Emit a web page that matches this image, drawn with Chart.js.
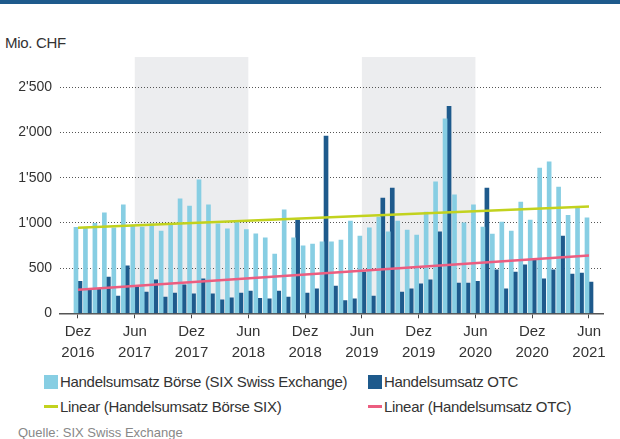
<!DOCTYPE html>
<html>
<head>
<meta charset="utf-8">
<script src="https://cdn.jsdelivr.net/npm/chart.js@4"></script>
<style>
  body { margin: 0; width: 620px; height: 439px; position: relative; overflow: hidden; background: #fff;
         font-family: 'Liberation Sans', Arial, sans-serif; color: #333; }
  #topbar { position: absolute; left: 0; top: 0; width: 620px; height: 4px; background: #1e5a8c; }
  #unit { position: absolute; left: 5px; top: 34px; font-size: 15px; letter-spacing: -0.3px; }
  #wrap { position: absolute; left: 0; top: 0; width: 620px; height: 365px; }
  .leg { position: absolute; font-size: 15px; line-height: 18px; white-space: nowrap; letter-spacing: -0.3px; }
  .box { position: absolute; width: 14px; height: 14px; }
  .ln { position: absolute; width: 14px; height: 3px; }
  #src { position: absolute; left: 18px; top: 425px; font-size: 13px; color: #888; }
</style>
</head>
<body>
<div id="topbar"></div>
<div id="unit">Mio. CHF</div>
<div id="wrap"><canvas id="myChart"></canvas></div>

<div class="box" style="left:44px;top:375px;background:#87cee3"></div>
<div class="leg" style="left:60px;top:373px">Handelsumsatz Börse (SIX Swiss Exchange)</div>
<div class="box" style="left:368px;top:375px;background:#1e5a8c"></div>
<div class="leg" style="left:384px;top:373px">Handelsumsatz OTC</div>
<div class="ln" style="left:44px;top:405px;background:#c2d21e"></div>
<div class="leg" style="left:60px;top:398px">Linear (Handelsumsatz Börse SIX)</div>
<div class="ln" style="left:368px;top:405px;background:#ec5d80"></div>
<div class="leg" style="left:384px;top:398px">Linear (Handelsumsatz OTC)</div>
<div id="src">Quelle: SIX Swiss Exchange</div>

<script>
// monthly values, Dez 2016 .. Jun 2021 (Mio. CHF)
const boerse = [
  950, 945, 995, 1110, 945, 1200, 975, 955, 990, 910, 995, 1265,
  1185, 1475, 1200, 990, 935, 1015, 925, 880, 835, 655, 1145, 835,
  745, 765, 790, 790, 810, 1020, 855, 945, 1065, 900, 1020, 920,
  865, 1120, 1455, 2150, 1310, 1000, 1200, 955, 875, 1010, 910, 1230,
  1030, 1605, 1675, 1395, 1085, 1175, 1055
];
const otc = [
  355, 260, 275, 400, 190, 525, 300, 235, 370, 180, 225, 315,
  215, 380, 215, 150, 170, 225, 245, 165, 160, 245, 180, 1030,
  225, 270, 1960, 300, 140, 160, 455, 190, 1275, 1385, 235, 270,
  325, 370, 900, 2290, 335, 335, 355, 1385, 480, 270, 455, 535,
  600, 380, 480, 855, 435, 445, 345
];
// trend lines: [start, end] read at first and last month
const trendBoerse = [945, 1180];
const trendOtc = [260, 640];

const tickIdx = [0, 6, 12, 18, 24, 30, 36, 42, 48, 54];
const tickLabels = [
  ["Dez", "2016"], ["Jun", "2017"], ["Dez", "2017"], ["Jun", "2018"], ["Dez", "2018"],
  ["Jun", "2019"], ["Dez", "2019"], ["Jun", "2020"], ["Dez", "2020"], ["Jun", "2021"]
];
const yTicks = [0, 500, 1000, 1500, 2000, 2500];
const yTickLabels = ["0", "500", "1'000", "1'500", "2'000", "2'500"];
// grey periods (month index from - to)
const shaded = [[6, 18], [30, 42]];

const last = boerse.length - 1;
const fontFam = "'Liberation Sans', Arial, sans-serif";

const bands = {
  id: "bands",
  beforeDraw(chart) {
    const c = chart.ctx, x = chart.scales.x, a = chart.chartArea;
    c.save();
    c.fillStyle = "#ecedef";
    shaded.forEach(function (s) {
      const x0 = x.getPixelForValue(s[0]);
      const x1 = x.getPixelForValue(s[1]);
      c.fillRect(x0, a.top, x1 - x0, a.bottom - a.top);
    });
    c.restore();
  }
};

const ctx = document.getElementById("myChart");

new Chart(ctx, {
  type: "bar",
  data: {
    datasets: [
      {
        type: "line",
        label: "Linear (Handelsumsatz Börse SIX)",
        data: [{ x: 0, y: trendBoerse[0] }, { x: last, y: trendBoerse[1] }],
        borderColor: "#c2d21e",
        borderWidth: 2.5,
        pointRadius: 0,
        order: 0,
      },
      {
        type: "line",
        label: "Linear (Handelsumsatz OTC)",
        data: [{ x: 0, y: trendOtc[0] }, { x: last, y: trendOtc[1] }],
        borderColor: "#ec5d80",
        borderWidth: 2.5,
        pointRadius: 0,
        order: 0,
      },
      {
        label: "Handelsumsatz Börse (SIX Swiss Exchange)",
        data: boerse.map((v, i) => ({ x: i, y: v })),
        backgroundColor: "#87cee3",
        barThickness: 4,
        order: 1,
      },
      {
        label: "Handelsumsatz OTC",
        data: otc.map((v, i) => ({ x: i, y: v })),
        backgroundColor: "#1e5a8c",
        barThickness: 4,
        order: 1,
      },
    ],
  },
  options: {
    responsive: true,
    maintainAspectRatio: false,
    animation: false,
    layout: { padding: { top: 57, right: 17, left: 0, bottom: 0 } },
    plugins: { legend: { display: false }, tooltip: { enabled: false } },
    scales: {
      x: {
        type: "linear",
        offset: false,
        min: -1.9,
        max: last + 1.48,
        afterBuildTicks(scale) {
          scale.ticks = tickIdx.map((v) => ({ value: v }));
        },
        afterFit(scale) {
          scale.height = 51.7;
          scale.paddingLeft = 0;
          scale.paddingRight = 0;
        },
        ticks: {
          autoSkip: false,
          maxRotation: 0,
          padding: 3,
          color: "#333",
          font: { family: fontFam, size: 15, lineHeight: 1.4 },
          callback: (v) => tickLabels[tickIdx.indexOf(v)],
        },
        grid: { offset: false, drawOnChartArea: false, drawTicks: true, tickLength: 5, color: "#444", lineWidth: 1 },
        border: { color: "#555", width: 1.5 },
      },
      y: {
        min: 0,
        max: 2835,
        afterBuildTicks(scale) {
          scale.ticks = yTicks.map((v) => ({ value: v }));
        },
        afterFit(scale) {
          scale.width = 60;
          scale.paddingTop = 0;
          scale.paddingBottom = 0;
        },
        ticks: {
          padding: 8,
          color: "#333",
          font: { family: fontFam, size: 14 },
          callback: (v) => yTickLabels[yTicks.indexOf(v)],
        },
        grid: { drawTicks: false, color: "#555", lineWidth: 1 },
        border: { display: false, dash: [1, 2] },
      },
    },
  },
  plugins: [bands],
});
</script>
</body>
</html>
